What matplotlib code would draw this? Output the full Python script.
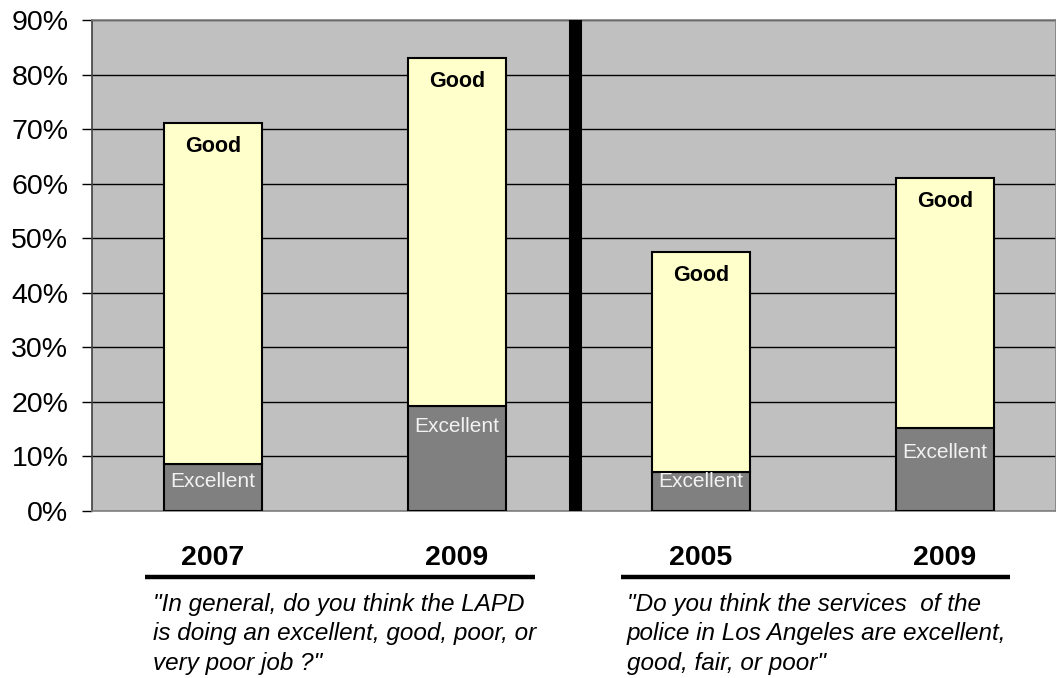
import matplotlib
matplotlib.use("Agg")
import matplotlib.pyplot as plt
import numpy as np

plt.rcParams['font.family'] = ['Liberation Sans', 'DejaVu Sans']

years = ["2007", "2009", "2005", "2009"]
excellent = [8.6, 19.2, 7.1, 15.2]
good_total = [71.1, 83.0, 47.4, 61.0]
good = [t - e for t, e in zip(good_total, excellent)]
yticks = [0, 10, 20, 30, 40, 50, 60, 70, 80, 90]
ytick_labels = [f"{v}%" for v in yticks]
questions = [
    '"In general, do you think the LAPD\nis doing an excellent, good, poor, or\nvery poor job ?"',
    '"Do you think the services  of the\npolice in Los Angeles are excellent,\ngood, fair, or poor"',
]

W, H = 1056, 678
fig = plt.figure(figsize=(W / 100, H / 100), dpi=100)
ax = fig.add_axes([92 / W, 1 - 511 / H, (1056 - 92) / W, (511 - 20) / H])
ax.set_facecolor('#c0c0c0')

x = np.arange(len(years))
bw = 0.4
ax.bar(x, excellent, width=bw, color='#808080', edgecolor='black', linewidth=1.5, zorder=3)
ax.bar(x, good, bottom=excellent, width=bw, color='#ffffcc', edgecolor='black', linewidth=1.5, zorder=3)

ax.set_xlim(-0.496, 3.455)
ax.set_ylim(0, 90)
ax.set_yticks(yticks)
ax.set_yticklabels(ytick_labels, fontsize=20.5)
ax.set_xticks([])
ax.yaxis.grid(True, color='black', linewidth=1.0, zorder=1)
ax.set_axisbelow(True)
ax.tick_params(axis='y', length=7, width=1, color='black', pad=10)

for s in ['top', 'bottom', 'right']:
    ax.spines[s].set_color('#808080')
    ax.spines[s].set_linewidth(1.2)
ax.spines['left'].set_color('#404040')
ax.spines['left'].set_linewidth(1.2)

# separator
ax.axvline(1.484, color='black', linewidth=9.4, zorder=4)

exc_off = [-17, -20, -9, -24]
for i in range(len(years)):
    ax.annotate("Good", (x[i], good_total[i]), xytext=(0, -23 * 0.72), textcoords='offset points',
                ha='center', va='center', fontsize=15.5, fontweight='bold', zorder=5)
    ax.annotate("Excellent", (x[i], excellent[i]), xytext=(0, exc_off[i] * 0.72), textcoords='offset points',
                ha='center', va='center', fontsize=15, color='#f2f2f2', zorder=5)

# year labels
trans = ax.get_xaxis_transform()
for i, yr in enumerate(years):
    ax.text(x[i], (511 - 558) / 491, yr, transform=trans, ha='center', va='center',
            fontsize=20.5, fontweight='bold', clip_on=False)

# underlines
for x0, x1 in [(-0.279, 1.32), (1.672, 3.266)]:
    ax.plot([x0, x1], [(511 - 577) / 491] * 2, transform=trans, color='black',
            linewidth=3.2, clip_on=False, solid_capstyle='butt')

# questions
for xp, q in zip([153, 627], questions):
    fig.text(xp / W, 1 - 593 / H, q, ha='left', va='top', fontsize=17.5, style='italic',
             linespacing=1.36)

fig.savefig('out.png', dpi=100)
